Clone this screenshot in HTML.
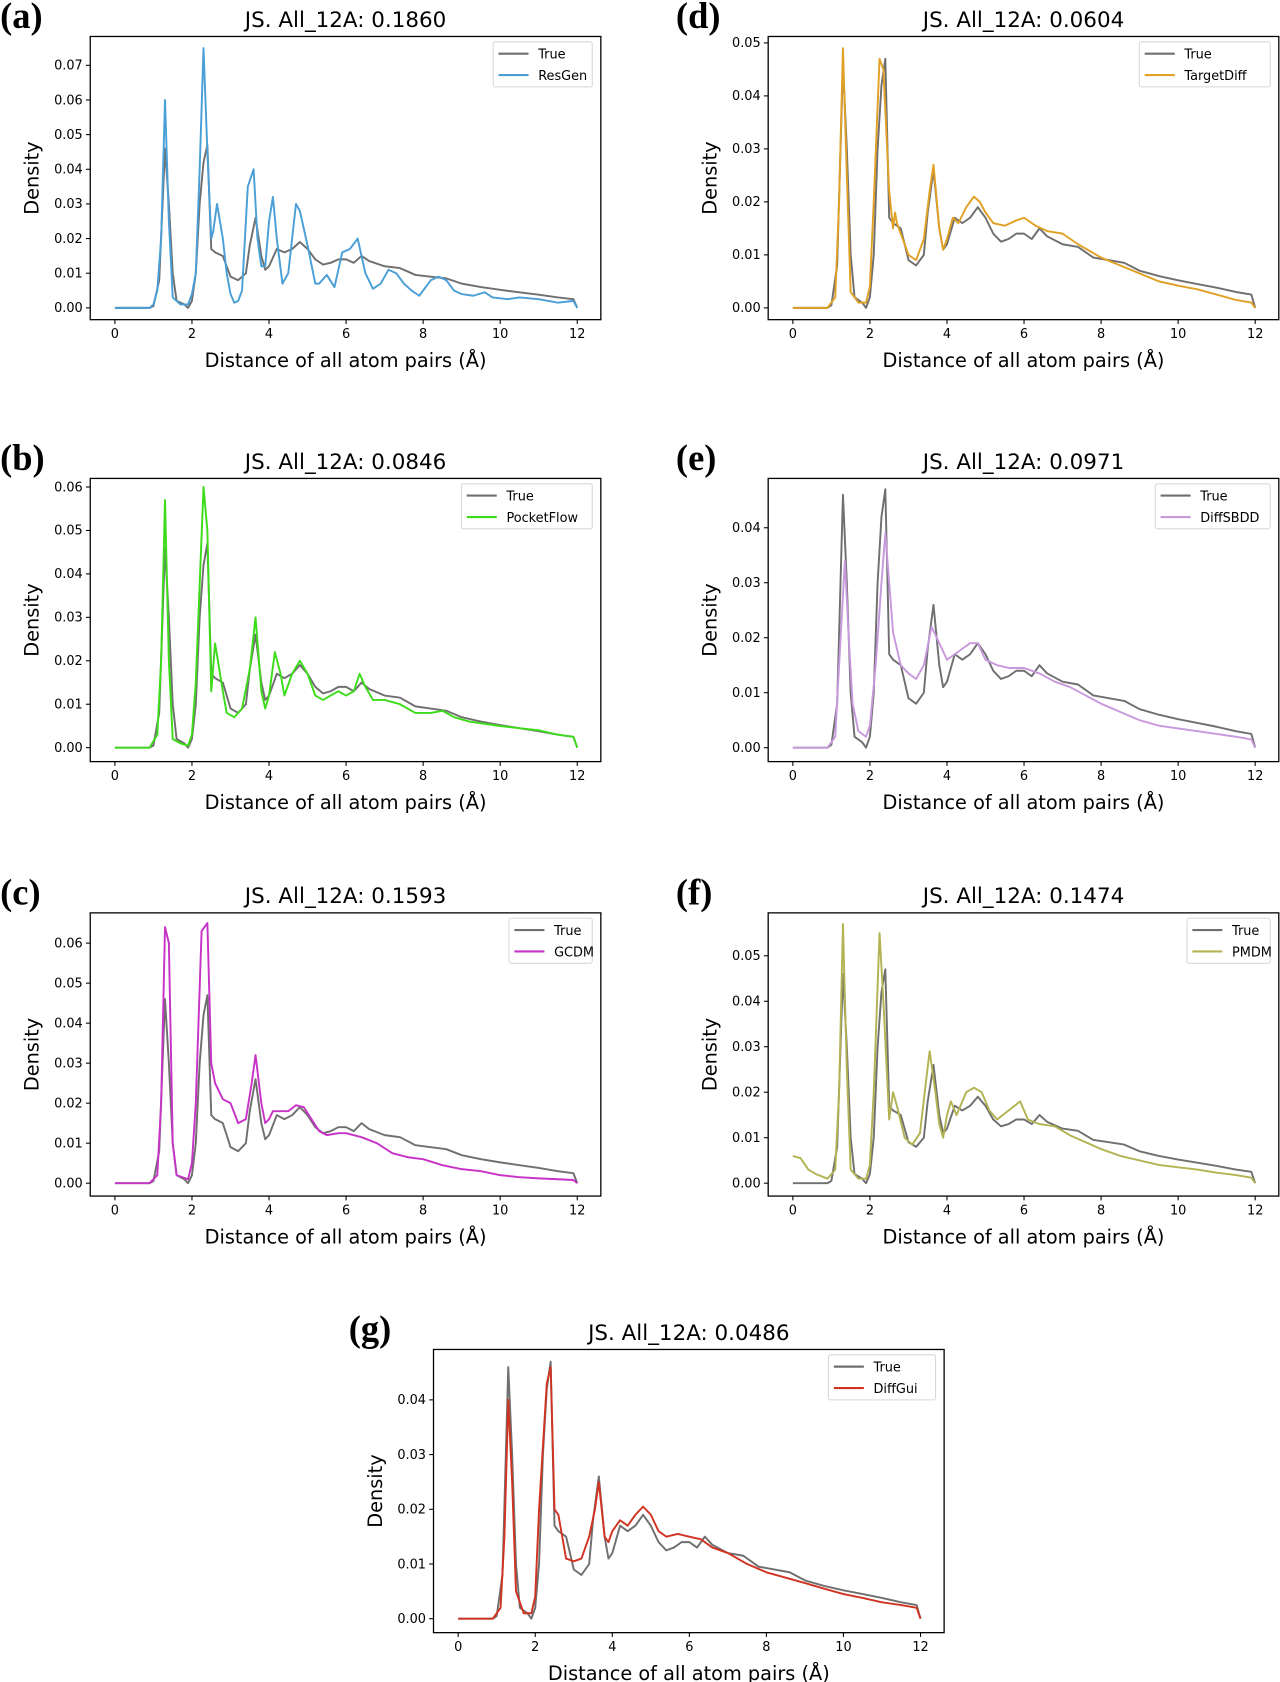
<!DOCTYPE html>
<html><head><meta charset="utf-8"><style>
html,body{margin:0;padding:0;background:#fff;}
svg{display:block;}
text{font-family:"DejaVu Sans","Liberation Sans",sans-serif;}
</style></head><body>
<svg id="fig" width="1280" height="1682" viewBox="0 0 1193 1568" xmlns="http://www.w3.org/2000/svg"></svg>
<script>
const trueX=[0,0.9,1.0,1.15,1.3,1.4,1.5,1.6,1.8,1.9,2.0,2.1,2.2,2.3,2.4,2.5,2.6,2.8,3.0,3.2,3.4,3.5,3.65,3.8,3.9,4.0,4.2,4.4,4.6,4.8,5.0,5.2,5.4,5.6,5.8,6.0,6.2,6.4,6.6,7.0,7.4,7.8,8.2,8.6,9.0,9.5,10,10.5,11,11.5,11.9,12];
const trueY=[0,0,0.0005,0.008,0.046,0.03,0.01,0.002,0.001,0,0.002,0.01,0.03,0.042,0.047,0.017,0.016,0.015,0.009,0.008,0.01,0.018,0.026,0.015,0.011,0.012,0.017,0.016,0.017,0.019,0.017,0.014,0.0125,0.013,0.014,0.014,0.013,0.015,0.0135,0.012,0.0115,0.0095,0.009,0.0085,0.007,0.006,0.0052,0.0045,0.0038,0.003,0.0025,0];
const resgenX=[0,0.9,1.0,1.1,1.2,1.3,1.4,1.5,1.7,1.9,2.0,2.1,2.2,2.3,2.4,2.5,2.55,2.65,2.8,2.9,3.0,3.1,3.2,3.3,3.45,3.6,3.7,3.8,3.9,4.0,4.1,4.2,4.35,4.5,4.7,4.8,5.0,5.2,5.3,5.5,5.7,5.9,6.1,6.3,6.5,6.7,6.9,7.1,7.3,7.5,7.7,7.9,8.2,8.4,8.6,8.8,9.0,9.3,9.6,9.8,10.2,10.5,11,11.5,11.9,12];
const resgenY=[0,0,0.001,0.005,0.02,0.06,0.025,0.003,0.001,0.001,0.004,0.01,0.04,0.075,0.045,0.02,0.022,0.03,0.02,0.01,0.004,0.0015,0.002,0.005,0.035,0.04,0.02,0.012,0.012,0.025,0.032,0.02,0.007,0.01,0.03,0.028,0.018,0.007,0.007,0.0095,0.006,0.016,0.017,0.02,0.01,0.0055,0.007,0.011,0.01,0.007,0.005,0.0035,0.008,0.009,0.008,0.005,0.004,0.0035,0.0045,0.003,0.0025,0.003,0.0025,0.0015,0.002,0];
const pocketX=[0,0.9,1.1,1.2,1.3,1.4,1.5,1.7,1.9,2.0,2.1,2.3,2.4,2.5,2.6,2.8,2.9,3.1,3.3,3.5,3.65,3.8,3.9,4.0,4.15,4.3,4.4,4.6,4.8,5.0,5.2,5.4,5.6,5.8,6.0,6.2,6.35,6.5,6.7,7.0,7.4,7.8,8.2,8.5,8.8,9.2,9.6,10,10.5,11,11.5,11.9,12];
const pocketY=[0,0,0.003,0.02,0.057,0.02,0.002,0.001,0.0005,0.003,0.015,0.06,0.05,0.013,0.024,0.013,0.008,0.007,0.009,0.018,0.03,0.013,0.009,0.012,0.022,0.017,0.012,0.017,0.02,0.017,0.012,0.011,0.012,0.013,0.012,0.013,0.017,0.014,0.011,0.011,0.01,0.008,0.008,0.0085,0.007,0.006,0.0055,0.005,0.0045,0.004,0.003,0.0025,0];
const gcdmX=[0,0.9,1.1,1.2,1.3,1.4,1.5,1.6,1.9,2.0,2.1,2.25,2.4,2.5,2.6,2.8,3.0,3.2,3.4,3.55,3.65,3.8,3.9,4.0,4.1,4.3,4.5,4.7,4.9,5.1,5.3,5.5,5.8,6.0,6.4,6.8,7.2,7.6,8,8.5,9,9.5,10,10.5,11,11.5,11.9,12];
const gcdmY=[0,0,0.002,0.02,0.064,0.06,0.01,0.002,0.001,0.005,0.02,0.063,0.065,0.03,0.025,0.021,0.02,0.015,0.016,0.025,0.032,0.02,0.015,0.016,0.018,0.018,0.018,0.0195,0.019,0.016,0.013,0.012,0.0125,0.0125,0.0115,0.01,0.0075,0.0065,0.006,0.0045,0.0035,0.003,0.002,0.0015,0.0012,0.001,0.0008,0];
const targetX=[0,0.9,1.1,1.2,1.3,1.4,1.5,1.7,1.9,2.0,2.1,2.25,2.35,2.5,2.6,2.65,2.7,2.8,3.0,3.2,3.4,3.55,3.65,3.8,3.9,4.0,4.15,4.3,4.5,4.7,4.85,5.0,5.2,5.5,5.8,6.0,6.3,6.6,7.0,7.4,8,8.5,9,9.5,10,10.5,11,11.5,11.9,12];
const targetY=[0,0,0.002,0.02,0.049,0.025,0.003,0.001,0.001,0.004,0.02,0.047,0.045,0.022,0.015,0.018,0.016,0.014,0.01,0.009,0.013,0.022,0.027,0.015,0.011,0.013,0.017,0.016,0.019,0.021,0.02,0.018,0.016,0.0155,0.0165,0.017,0.0155,0.0145,0.014,0.012,0.0095,0.008,0.0065,0.005,0.0042,0.0035,0.0025,0.0015,0.001,0];
const diffsbddX=[0,0.9,1.1,1.2,1.35,1.45,1.55,1.7,1.9,2.0,2.15,2.3,2.4,2.5,2.6,2.8,3.0,3.2,3.4,3.6,3.8,4.0,4.2,4.4,4.6,4.8,5.0,5.3,5.6,6.0,6.4,6.8,7.2,7.6,8,8.5,9,9.5,10,10.5,11,11.5,11.9,12];
const diffsbddY=[0,0,0.002,0.015,0.034,0.02,0.008,0.003,0.002,0.004,0.015,0.03,0.039,0.03,0.021,0.015,0.0135,0.0125,0.015,0.022,0.019,0.016,0.017,0.018,0.019,0.019,0.016,0.015,0.0145,0.0145,0.0135,0.012,0.011,0.0095,0.008,0.0065,0.005,0.004,0.0035,0.003,0.0025,0.002,0.0015,0];
const pmdmX=[0,0.2,0.4,0.6,0.9,1.1,1.2,1.3,1.4,1.5,1.7,1.9,2.0,2.1,2.25,2.35,2.5,2.6,2.7,2.9,3.1,3.3,3.45,3.55,3.7,3.8,3.9,4.0,4.1,4.25,4.5,4.7,4.9,5.1,5.3,5.6,5.9,6.1,6.4,6.8,7.2,7.6,8,8.5,9,9.5,10,10.5,11,11.5,11.9,12];
const pmdmY=[0.006,0.0055,0.003,0.002,0.001,0.003,0.02,0.057,0.025,0.003,0.001,0.001,0.004,0.02,0.055,0.04,0.014,0.02,0.017,0.01,0.0085,0.011,0.022,0.029,0.02,0.013,0.01,0.015,0.018,0.015,0.02,0.021,0.02,0.016,0.014,0.016,0.018,0.014,0.013,0.0125,0.0105,0.009,0.0075,0.006,0.005,0.004,0.0035,0.003,0.0023,0.0018,0.0012,0];
const diffguiX=[0,0.9,1.1,1.2,1.3,1.4,1.5,1.7,1.9,2.0,2.1,2.3,2.4,2.5,2.6,2.8,3.0,3.2,3.4,3.55,3.65,3.8,3.9,4.0,4.2,4.4,4.6,4.8,5.0,5.2,5.4,5.7,6.0,6.3,6.6,7.0,7.5,8,8.5,9,9.5,10,10.5,11,11.5,11.9,12];
const diffguiY=[0,0,0.002,0.015,0.04,0.025,0.005,0.001,0.001,0.004,0.02,0.043,0.046,0.02,0.019,0.011,0.0105,0.011,0.015,0.02,0.025,0.015,0.014,0.016,0.018,0.017,0.019,0.0205,0.019,0.016,0.015,0.0155,0.015,0.0145,0.013,0.012,0.01,0.0085,0.0075,0.0065,0.0055,0.0045,0.0038,0.003,0.0025,0.002,0];
const xTicks=[0,2,4,6,8,10,12];

const panels=[
 {id:'a',label:'(a)',lx:0,title:'JS. All_12A: 0.1860',L:84,T:34,x0:107,x12:538,y0:287,ymax:0.07,ypx:32.3,name:'ResGen',color:'#4a9fd6',xs:resgenX,ys:resgenY},
 {id:'d',label:'(d)',lx:630,title:'JS. All_12A: 0.0604',L:716,T:34,x0:739,x12:1170,y0:287,ymax:0.05,ypx:49.4,name:'TargetDiff',color:'#e0a125',xs:targetX,ys:targetY},
 {id:'b',label:'(b)',lx:0,title:'JS. All_12A: 0.0846',L:84,T:446,x0:107,x12:538,y0:697,ymax:0.06,ypx:40.5,name:'PocketFlow',color:'#3ddc1a',xs:pocketX,ys:pocketY},
 {id:'e',label:'(e)',lx:630,title:'JS. All_12A: 0.0971',L:716,T:446,x0:739,x12:1170,y0:697,ymax:0.04,ypx:51.25,name:'DiffSBDD',color:'#c899dc',xs:diffsbddX,ys:diffsbddY},
 {id:'c',label:'(c)',lx:0,title:'JS. All_12A: 0.1593',L:84,T:851,x0:107,x12:538,y0:1103,ymax:0.06,ypx:37.3,name:'GCDM',color:'#c733c7',xs:gcdmX,ys:gcdmY},
 {id:'f',label:'(f)',lx:630,title:'JS. All_12A: 0.1474',L:716,T:851,x0:739,x12:1170,y0:1103,ymax:0.05,ypx:42.4,name:'PMDM',color:'#b3b354',xs:pmdmX,ys:pmdmY},
 {id:'g',label:'(g)',lx:325,title:'JS. All_12A: 0.0486',L:404,T:1258,x0:427,x12:858,y0:1509,ymax:0.04,ypx:51,name:'DiffGui',color:'#d13322',xs:diffguiX,ys:diffguiY}
];
const NS='http://www.w3.org/2000/svg';
const svg=document.getElementById('fig');
function mk(tag,attrs,parent,txt){const e=document.createElementNS(NS,tag);for(const k in attrs)e.setAttribute(k,attrs[k]);if(txt!==undefined)e.textContent=txt;parent.appendChild(e);return e;}
panels.forEach(p=>{
 const W=476,H=264;
 const g=mk('g',{},svg);
 
 
 const sx=v=>p.x0+(p.x12-p.x0)*v/12;
 const sy=v=>p.y0-v*100*p.ypx;
 const lab=mk('text',{x:p.lx,y:p.T-8,'font-size':34,'font-weight':'bold',style:'font-family:"Liberation Serif",serif'},g,p.label);
 
 
 const t=mk('text',{x:p.L+W/2,y:p.T-9,'font-size':20,'text-anchor':'middle'},g,p.title);
 
 
 xTicks.forEach(v=>{
  const x=sx(v);
  mk('line',{x1:x,x2:x,y1:p.T+H,y2:p.T+H+4,stroke:'#000','stroke-width':1},g);
  const tl=mk('text',{x:x,y:p.T+H+17,'font-size':12,'text-anchor':'middle'},g,String(v));
  
  
 });
 const nT=Math.round(p.ymax*100);
 for(let i=0;i<=nT;i++){
  const v=i/100,y=sy(v);
  mk('line',{x1:p.L-4,x2:p.L,y1:y,y2:y,stroke:'#000','stroke-width':1},g);
  const tl=mk('text',{x:p.L-7,y:y+4,'font-size':12,'text-anchor':'end'},g,v.toFixed(2));
  
  
 }
 const xl=mk('text',{x:p.L+W/2,y:p.T+H+44,'font-size':18,'text-anchor':'middle'},g,'Distance of all atom pairs (Å)');
 
 
 const yx=p.L-48,yy=p.T+H/2;
 const yl=mk('text',{x:yx,y:yy,'font-size':18,'text-anchor':'middle',transform:'rotate(-90 '+yx+' '+yy+')'},g,'Density');
 
 
 const line=(xs,ys,col,nm)=>{
  const pts=xs.map((x,i)=>sx(x).toFixed(1)+','+sy(ys[i]).toFixed(1)).join(' ');
  const pl=mk('polyline',{points:pts,fill:'none',stroke:col,'stroke-width':1.8,'stroke-linejoin':'round'},g);
  
  
 };
 line(trueX,trueY,'#6f6f6f','true-line');
 line(p.xs,p.ys,p.color,p.name.toLowerCase()+'-line');
 const box=mk('rect',{x:p.L,y:p.T,width:W,height:H,fill:'none',stroke:'#000','stroke-width':1.2},g);
 
 
 const lw=48+Math.max(4,p.name.length)*7.4;
 const lx=p.L+W-8-lw,ly=p.T+5;
 const lg=mk('g',{},g);
 
 
 mk('rect',{x:lx,y:ly,width:lw,height:42,fill:'#fff',stroke:'#d8d8d8','stroke-width':1,rx:2},lg);
 [['True','#6f6f6f'],[p.name,p.color]].forEach((e,i)=>{
  const yy2=ly+11+i*20;
  mk('line',{x1:lx+5,x2:lx+33,y1:yy2,y2:yy2,stroke:e[1],'stroke-width':2},lg);
  const tx=mk('text',{x:lx+42,y:yy2+4.5,'font-size':12},lg,e[0]);
  
  
 });
});
</script>
</body></html>
